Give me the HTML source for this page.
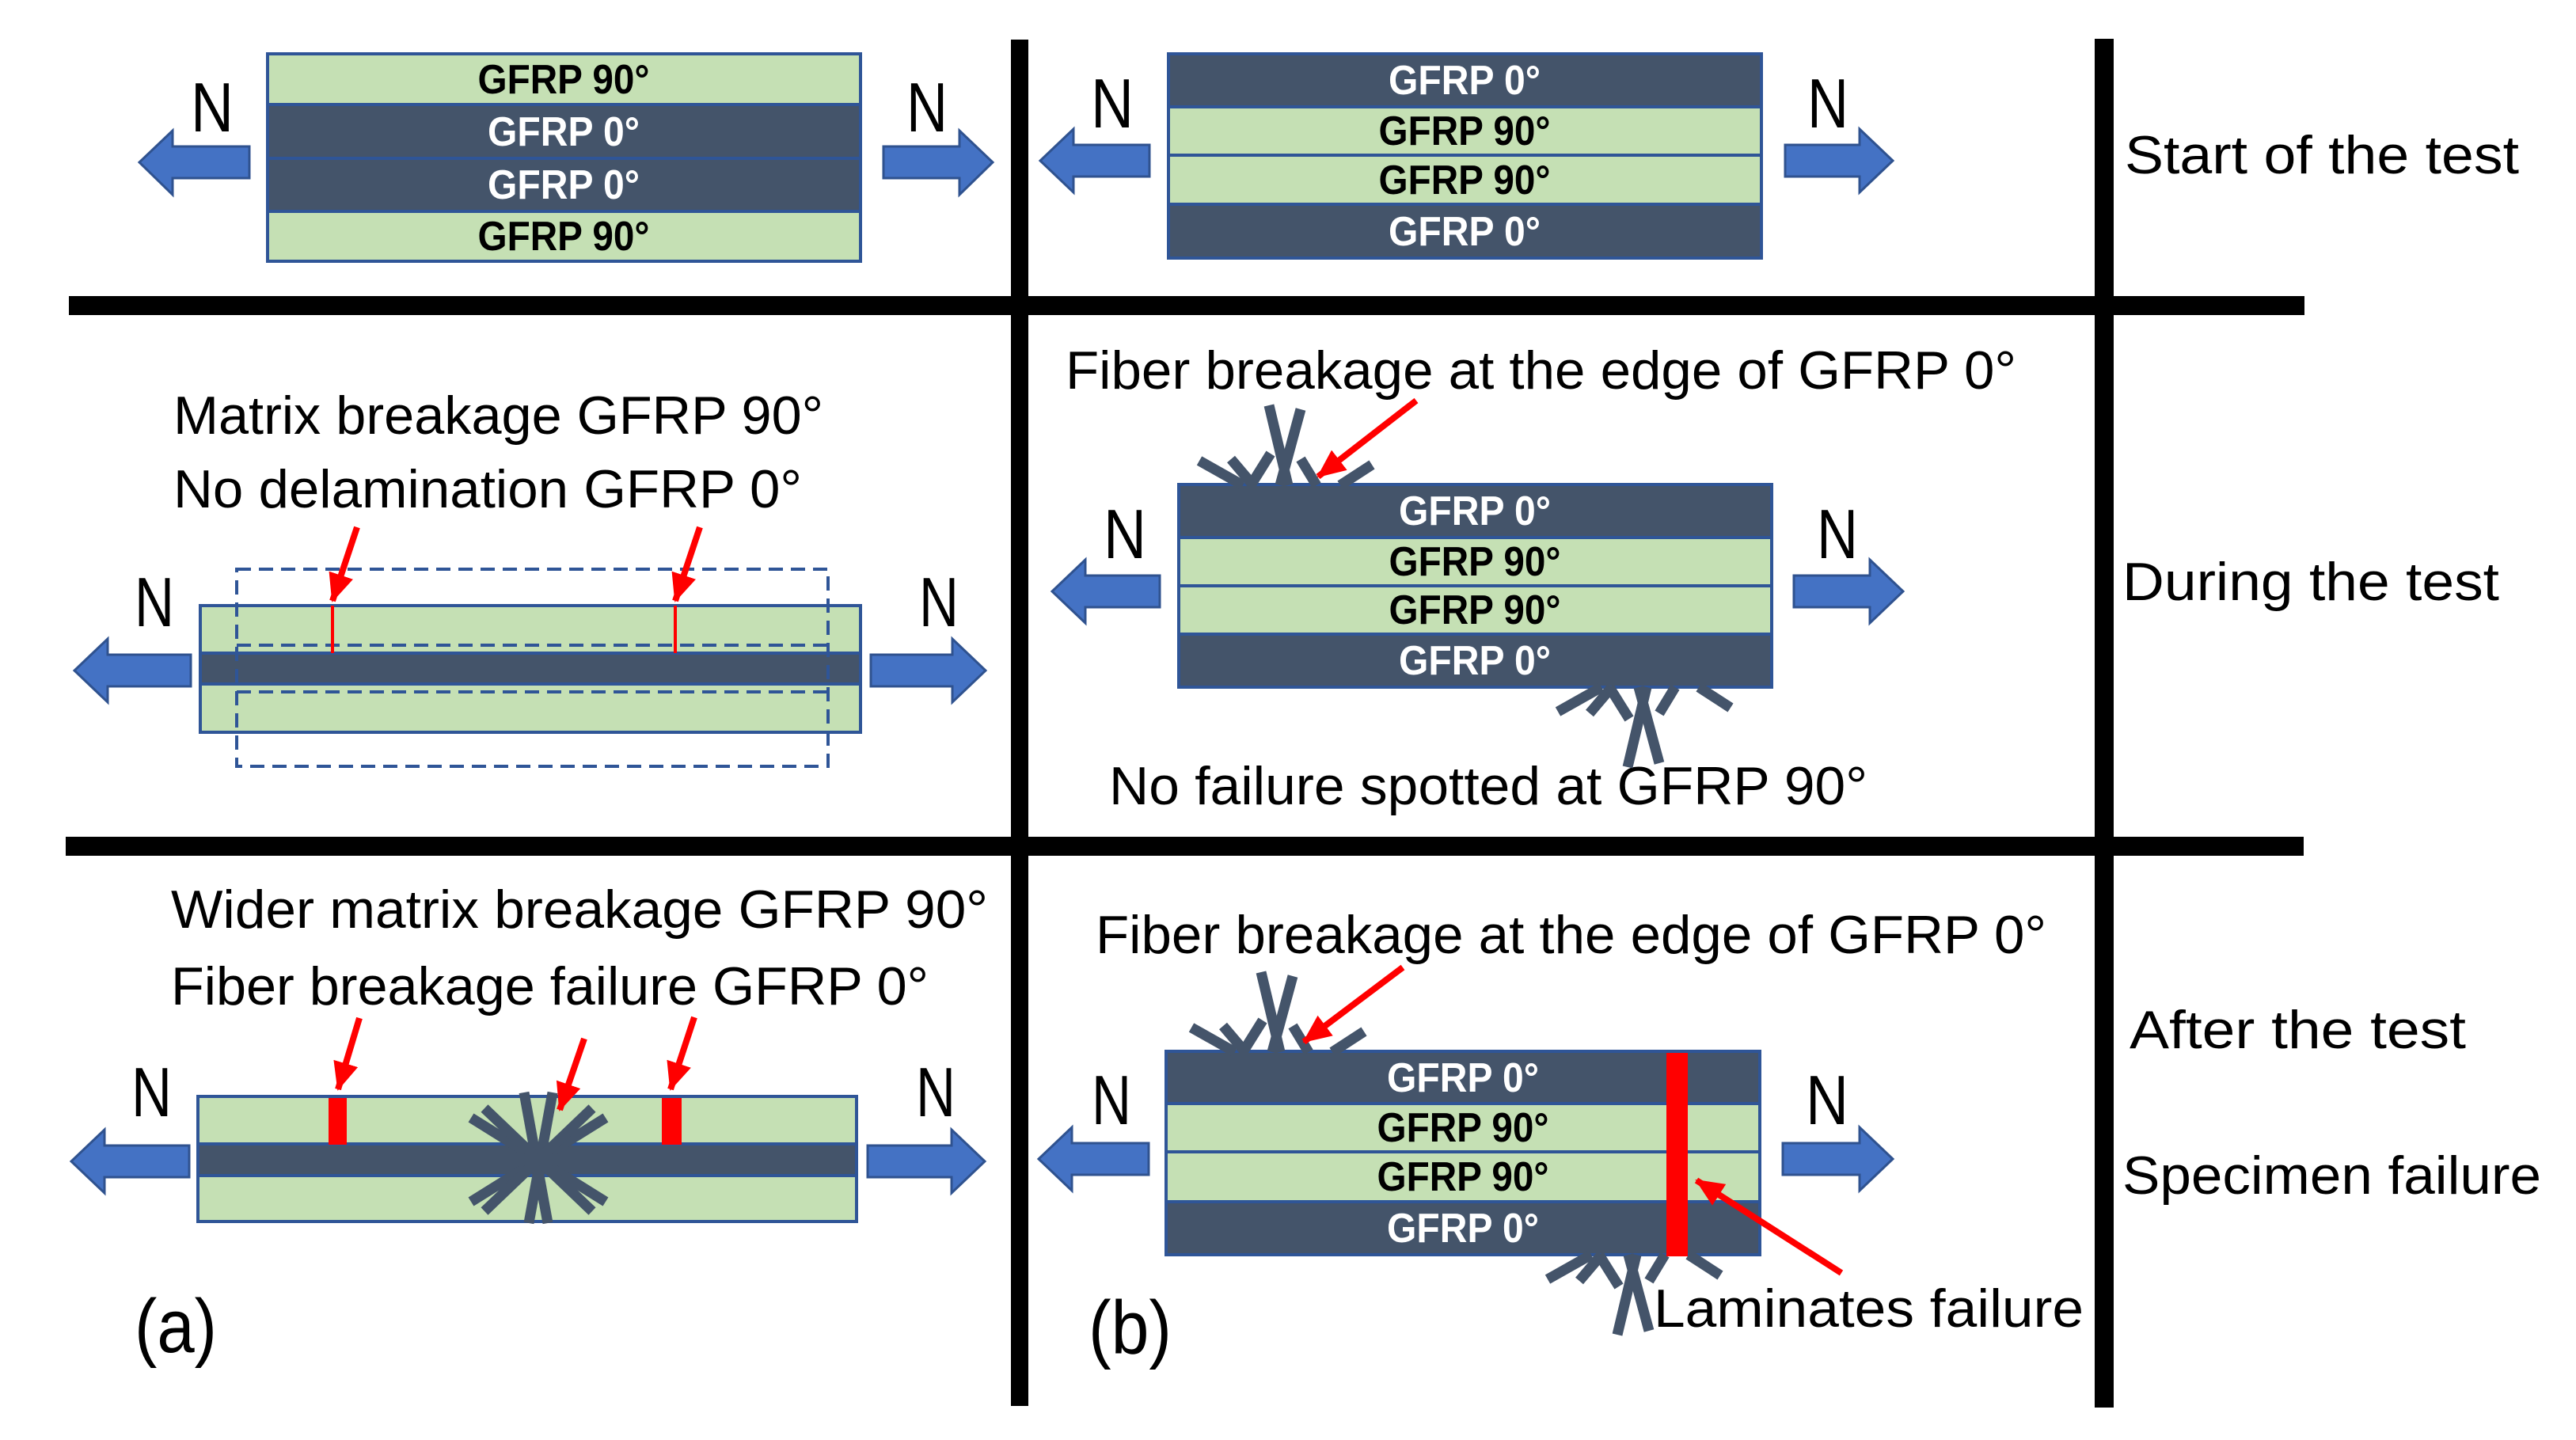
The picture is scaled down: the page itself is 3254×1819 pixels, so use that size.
<!DOCTYPE html>
<html><head><meta charset="utf-8"><style>
html,body{margin:0;padding:0;background:#fff;}
svg{display:block;}
text{font-family:"Liberation Sans",sans-serif;}
</style></head><body>
<svg width="3254" height="1819" viewBox="0 0 3254 1819" xmlns="http://www.w3.org/2000/svg">
<defs>
<marker id="rh" markerUnits="userSpaceOnUse" markerWidth="40" markerHeight="40" refX="34" refY="16" orient="auto">
<path d="M0,0 L36,16 L0,32 Z" fill="#ff0000"/>
</marker>
<g id="fib" stroke="#44546a" stroke-width="13" fill="none">
<line x1="-17" y1="-101" x2="7" y2="0"/>
<line x1="23" y1="-96" x2="-3" y2="0"/>
<line x1="-105" y1="-31" x2="-50" y2="0"/>
<line x1="-65" y1="-33" x2="-37" y2="0"/>
<line x1="-15" y1="-40" x2="-40" y2="0"/>
<line x1="23" y1="-33" x2="43" y2="0"/>
<line x1="113" y1="-26" x2="73" y2="0"/>
</g>
</defs>

<rect x="87" y="374" width="2824" height="24" fill="#000"/>
<rect x="83" y="1057" width="2827" height="24" fill="#000"/>
<rect x="1277" y="50" width="22" height="1726" fill="#000"/>
<rect x="2646" y="49" width="24" height="1729" fill="#000"/>

<g stroke="#2f5597" stroke-width="4">
<rect x="338" y="68" width="749" height="64" fill="#c5e0b4"/>
<rect x="338" y="132" width="749" height="68" fill="#44546a"/>
<rect x="338" y="200" width="749" height="67" fill="#44546a"/>
<rect x="338" y="267" width="749" height="63" fill="#c5e0b4"/>
<rect x="1476" y="68" width="749" height="67" fill="#44546a"/>
<rect x="1476" y="135" width="749" height="61" fill="#c5e0b4"/>
<rect x="1476" y="196" width="749" height="62" fill="#c5e0b4"/>
<rect x="1476" y="258" width="749" height="68" fill="#44546a"/>
<rect x="253" y="765" width="834" height="60" fill="#c5e0b4"/>
<rect x="253" y="825" width="834" height="39" fill="#44546a"/>
<rect x="253" y="864" width="834" height="61" fill="#c5e0b4"/>
<rect x="1489" y="612" width="749" height="67" fill="#44546a"/>
<rect x="1489" y="679" width="749" height="61" fill="#c5e0b4"/>
<rect x="1489" y="740" width="749" height="61" fill="#c5e0b4"/>
<rect x="1489" y="801" width="749" height="67" fill="#44546a"/>
<rect x="250" y="1385" width="832" height="60" fill="#c5e0b4"/>
<rect x="250" y="1445" width="832" height="40" fill="#44546a"/>
<rect x="250" y="1485" width="832" height="58" fill="#c5e0b4"/>
<rect x="1473" y="1328" width="750" height="66" fill="#44546a"/>
<rect x="1473" y="1394" width="750" height="61" fill="#c5e0b4"/>
<rect x="1473" y="1455" width="750" height="63" fill="#c5e0b4"/>
<rect x="1473" y="1518" width="750" height="67" fill="#44546a"/>
</g>

<g stroke="#2f5597" stroke-width="4" fill="none" stroke-dasharray="18,10">
<rect x="299" y="719" width="747" height="249"/>
<line x1="299" y1="815" x2="1046" y2="815"/>
<line x1="299" y1="874" x2="1046" y2="874"/>
</g>

<g font-weight="bold" font-size="52" text-anchor="middle">
<text x="712" y="118" fill="#000" textLength="217" lengthAdjust="spacingAndGlyphs">GFRP 90°</text>
<text x="712" y="184" fill="#fff" textLength="192" lengthAdjust="spacingAndGlyphs">GFRP 0°</text>
<text x="712" y="251" fill="#fff" textLength="192" lengthAdjust="spacingAndGlyphs">GFRP 0°</text>
<text x="712" y="316" fill="#000" textLength="217" lengthAdjust="spacingAndGlyphs">GFRP 90°</text>

<text x="1850" y="119" fill="#fff" textLength="192" lengthAdjust="spacingAndGlyphs">GFRP 0°</text>
<text x="1850" y="183" fill="#000" textLength="217" lengthAdjust="spacingAndGlyphs">GFRP 90°</text>
<text x="1850" y="245" fill="#000" textLength="217" lengthAdjust="spacingAndGlyphs">GFRP 90°</text>
<text x="1850" y="310" fill="#fff" textLength="192" lengthAdjust="spacingAndGlyphs">GFRP 0°</text>

<text x="1863" y="663" fill="#fff" textLength="192" lengthAdjust="spacingAndGlyphs">GFRP 0°</text>
<text x="1863" y="727" fill="#000" textLength="217" lengthAdjust="spacingAndGlyphs">GFRP 90°</text>
<text x="1863" y="788" fill="#000" textLength="217" lengthAdjust="spacingAndGlyphs">GFRP 90°</text>
<text x="1863" y="852" fill="#fff" textLength="192" lengthAdjust="spacingAndGlyphs">GFRP 0°</text>

<text x="1848" y="1379" fill="#fff" textLength="192" lengthAdjust="spacingAndGlyphs">GFRP 0°</text>
<text x="1848" y="1442" fill="#000" textLength="217" lengthAdjust="spacingAndGlyphs">GFRP 90°</text>
<text x="1848" y="1504" fill="#000" textLength="217" lengthAdjust="spacingAndGlyphs">GFRP 90°</text>
<text x="1848" y="1569" fill="#fff" textLength="192" lengthAdjust="spacingAndGlyphs">GFRP 0°</text>
</g>

<g fill="#4472c4" stroke="#2f528f" stroke-width="3">
<path d="M315,185 L218,185 L218,165 L176,205 L218,246 L218,225 L315,225 Z"/>
<path d="M1116,185 L1212,185 L1212,165 L1254,205 L1212,246 L1212,225 L1116,225 Z"/>
<path d="M1452,183 L1356,183 L1356,163 L1314,203 L1356,243 L1356,223 L1452,223 Z"/>
<path d="M2255,183 L2349,183 L2349,163 L2391,203 L2349,243 L2349,223 L2255,223 Z"/>
<path d="M241,827 L136,827 L136,807 L94,847 L136,887 L136,867 L241,867 Z"/>
<path d="M1100,827 L1203,827 L1203,807 L1245,847 L1203,887 L1203,867 L1100,867 Z"/>
<path d="M1465,727 L1371,727 L1371,707 L1329,747 L1371,787 L1371,767 L1465,767 Z"/>
<path d="M2266,727 L2362,727 L2362,707 L2404,747 L2362,787 L2362,767 L2266,767 Z"/>
<path d="M239,1447 L132,1447 L132,1427 L90,1467 L132,1507 L132,1487 L239,1487 Z"/>
<path d="M1096,1447 L1202,1447 L1202,1427 L1244,1467 L1202,1507 L1202,1487 L1096,1487 Z"/>
<path d="M1451,1444 L1354,1444 L1354,1424 L1312,1464 L1354,1504 L1354,1484 L1451,1484 Z"/>
<path d="M2252,1444 L2349,1444 L2349,1424 L2391,1464 L2349,1504 L2349,1484 L2252,1484 Z"/>
</g>

<g font-size="88" fill="#000">
<text x="241" y="166" textLength="54" lengthAdjust="spacingAndGlyphs">N</text>
<text x="1145" y="166" textLength="52" lengthAdjust="spacingAndGlyphs">N</text>
<text x="1378" y="161" textLength="54" lengthAdjust="spacingAndGlyphs">N</text>
<text x="2283" y="161" textLength="52" lengthAdjust="spacingAndGlyphs">N</text>
<text x="170" y="791" textLength="50" lengthAdjust="spacingAndGlyphs">N</text>
<text x="1161" y="791" textLength="50" lengthAdjust="spacingAndGlyphs">N</text>
<text x="1394" y="705" textLength="54" lengthAdjust="spacingAndGlyphs">N</text>
<text x="2295" y="705" textLength="52" lengthAdjust="spacingAndGlyphs">N</text>
<text x="166" y="1410" textLength="51" lengthAdjust="spacingAndGlyphs">N</text>
<text x="1157" y="1410" textLength="50" lengthAdjust="spacingAndGlyphs">N</text>
<text x="1379" y="1420" textLength="50" lengthAdjust="spacingAndGlyphs">N</text>
<text x="2281" y="1420" textLength="54" lengthAdjust="spacingAndGlyphs">N</text>
</g>

<g font-size="68" fill="#000">
<text x="2684" y="219" textLength="498" lengthAdjust="spacingAndGlyphs">Start of the test</text>
<text x="2681" y="758" textLength="476" lengthAdjust="spacingAndGlyphs">During the test</text>
<text x="2690" y="1324" textLength="425" lengthAdjust="spacingAndGlyphs">After the test</text>
<text x="2681" y="1508" textLength="529" lengthAdjust="spacingAndGlyphs">Specimen failure</text>
<text x="219" y="548" textLength="821" lengthAdjust="spacingAndGlyphs">Matrix breakage GFRP 90°</text>
<text x="219" y="641" textLength="794" lengthAdjust="spacingAndGlyphs">No delamination GFRP 0°</text>
<text x="1346" y="491" textLength="1201" lengthAdjust="spacingAndGlyphs">Fiber breakage at the edge of GFRP 0°</text>
<text x="1401" y="1016" textLength="958" lengthAdjust="spacingAndGlyphs">No failure spotted at GFRP 90°</text>
<text x="216" y="1172" textLength="1032" lengthAdjust="spacingAndGlyphs">Wider matrix breakage GFRP 90°</text>
<text x="216" y="1269" textLength="957" lengthAdjust="spacingAndGlyphs">Fiber breakage failure GFRP 0°</text>
<text x="1384" y="1204" textLength="1201" lengthAdjust="spacingAndGlyphs">Fiber breakage at the edge of GFRP 0°</text>
<text x="2089" y="1676" textLength="543" lengthAdjust="spacingAndGlyphs">Laminates failure</text>
</g>
<text x="170" y="1708" font-size="96" textLength="104" lengthAdjust="spacingAndGlyphs">(a)</text>
<text x="1375" y="1710" font-size="96" textLength="105" lengthAdjust="spacingAndGlyphs">(b)</text>

<use href="#fib" transform="translate(1620,613)"/>
<use href="#fib" transform="translate(2073,868) scale(1,-1)"/>
<use href="#fib" transform="translate(1610,1329)"/>
<use href="#fib" transform="translate(2060,1585) scale(1,-1)"/>

<g stroke="#44546a" stroke-width="13">
<line x1="662" y1="1380" x2="692" y2="1545"/>
<line x1="698" y1="1380" x2="668" y2="1545"/>
<line x1="595" y1="1412" x2="765" y2="1518"/>
<line x1="595" y1="1518" x2="765" y2="1412"/>
<line x1="612" y1="1400" x2="748" y2="1530"/>
<line x1="612" y1="1530" x2="748" y2="1400"/>
<line x1="590" y1="1465" x2="770" y2="1465"/>
</g>

<g stroke="#ff0000" fill="#ff0000">
<line x1="420" y1="765" x2="420" y2="825" stroke-width="4"/>
<line x1="853" y1="765" x2="853" y2="825" stroke-width="4"/>
<rect x="415" y="1387" width="23" height="59" stroke="none"/>
<rect x="836" y="1387" width="25" height="59" stroke="none"/>
<rect x="2105" y="1330" width="27" height="257" stroke="none"/>
</g>
<g stroke="#ff0000" stroke-width="8" fill="none" marker-end="url(#rh)">
<line x1="451" y1="666" x2="420" y2="759"/>
<line x1="884" y1="666" x2="853" y2="759"/>
<line x1="1789" y1="506" x2="1665" y2="602"/>
<line x1="454" y1="1286" x2="427" y2="1376"/>
<line x1="738" y1="1312" x2="707" y2="1402"/>
<line x1="877" y1="1285" x2="847" y2="1376"/>
<line x1="1772" y1="1222" x2="1647" y2="1316"/>
<line x1="2326" y1="1608" x2="2143" y2="1491"/>
</g>
</svg>
</body></html>
